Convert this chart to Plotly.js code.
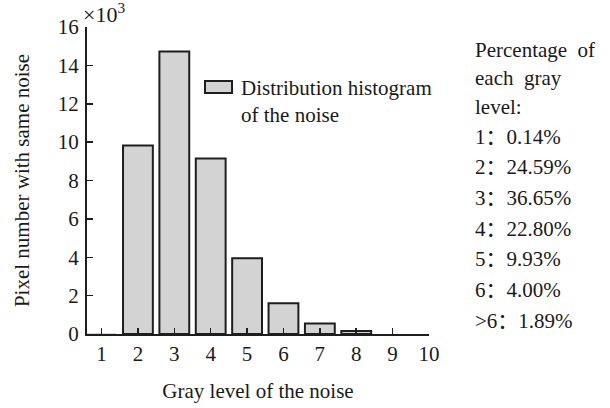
<!DOCTYPE html>
<html>
<head>
<meta charset="utf-8">
<script src="https://cdn.plot.ly/plotly-3.0.1.min.js"></script>
<style>html,body{margin:0;padding:0;background:#fff;}#chart{width:610px;height:408px;}</style>
</head>
<body>
<div id="chart"></div>
<script>
// Data (pixel counts in thousands)
const grayLevels = [1, 2, 3, 4, 5, 6, 7, 8, 9, 10];
const pixelCounts = [0.05, 9.82, 14.72, 9.15, 3.95, 1.6, 0.55, 0.15, 0, 0];
const xTickLabels = ['1','2','3','4','5','6','7','8','9','10'];
const yTickValues = [0, 2, 4, 6, 8, 10, 12, 14, 16];
const pctHeader = ['Percentage&nbsp;&nbsp;of', 'each&nbsp;&nbsp;gray', 'level:'];
const pctLevels = ['1', '2', '3', '4', '5', '6', '>6'];
const pctValues = ['0.14%', '24.59%', '36.65%', '22.80%', '9.93%', '4.00%', '1.89%'];

const W = 610, H = 408;
const M = {l: 87, r: 181, t: 27, b: 74};
const pw = W - M.l - M.r, ph = H - M.t - M.b;
const px = x => (x - M.l) / pw;
const py = y => (H - M.b - y) / ph;

const font = {family: '"Liberation Serif", "Times New Roman", serif', size: 21, color: '#1a1a1a'};

const lineWidths = pixelCounts.map(v => v < 0.1 ? 0 : 2);

const trace = {
  type: 'bar',
  x: grayLevels,
  y: pixelCounts,
  width: 0.82,
  marker: {color: '#d3d3d3', line: {color: '#1e1e1e', width: lineWidths}},
  showlegend: false,
  hoverinfo: 'none'
};

const annotations = [];
annotations.push({xref: 'paper', yref: 'paper', x: px(81), y: py(13), xanchor: 'left', yanchor: 'middle',
  text: '×10<sup>3</sup>', showarrow: false, font: Object.assign({}, font, {size: 22})});
annotations.push({xref: 'paper', yref: 'paper', x: px(239), y: py(74), xanchor: 'left', yanchor: 'top', align: 'left',
  text: 'Distribution histogram<br>of the noise', showarrow: false, font: font});
const lineY = [50, 78, 107, 137, 167, 198, 229, 259, 290, 321];
const colon = '<span style="font-family:\'Noto Sans CJK SC\'">：</span>';
const lines = pctHeader.concat(pctLevels.map((l, i) => l.replace('>', '&gt;') + colon + pctValues[i]));
lines.forEach((t, i) => {
  annotations.push({xref: 'paper', yref: 'paper', x: px(473), y: py(i < 3 ? lineY[i] : lineY[i] - 2), xanchor: 'left', yanchor: 'middle',
    align: 'left', text: t, showarrow: false, font: font});
});

const layout = {
  width: W, height: H,
  margin: M,
  paper_bgcolor: '#fff', plot_bgcolor: '#fff',
  font: font,
  xaxis: {
    range: [0.6, 10], tickvals: grayLevels, ticktext: xTickLabels,
    ticks: 'inside', ticklen: 6, tickwidth: 1.5, tickcolor: '#1e1e1e',
    showline: true, linecolor: '#1e1e1e', linewidth: 2, showgrid: false, zeroline: false,
    tickfont: font, ticklabelstandoff: 0,
    title: {text: 'Gray level of the noise', font: font, standoff: 18}
  },
  yaxis: {
    range: [0, 16], tickvals: yTickValues,
    ticks: 'inside', ticklen: 6, tickwidth: 1.5, tickcolor: '#1e1e1e',
    showline: true, linecolor: '#1e1e1e', linewidth: 2, showgrid: false, zeroline: false,
    tickfont: font, ticklabelstandoff: 2,
    title: {text: 'Pixel number with same noise', font: font, standoff: 22}
  },
  shapes: [{type: 'rect', xref: 'paper', yref: 'paper', x0: px(205), x1: px(232), y0: py(93), y1: py(81),
    fillcolor: '#d3d3d3', line: {color: '#1e1e1e', width: 2}}],
  annotations: annotations,
  bargap: 0.18
};

Plotly.newPlot('chart', [trace], layout, {displayModeBar: false, staticPlot: true});
</script>
</body>
</html>
